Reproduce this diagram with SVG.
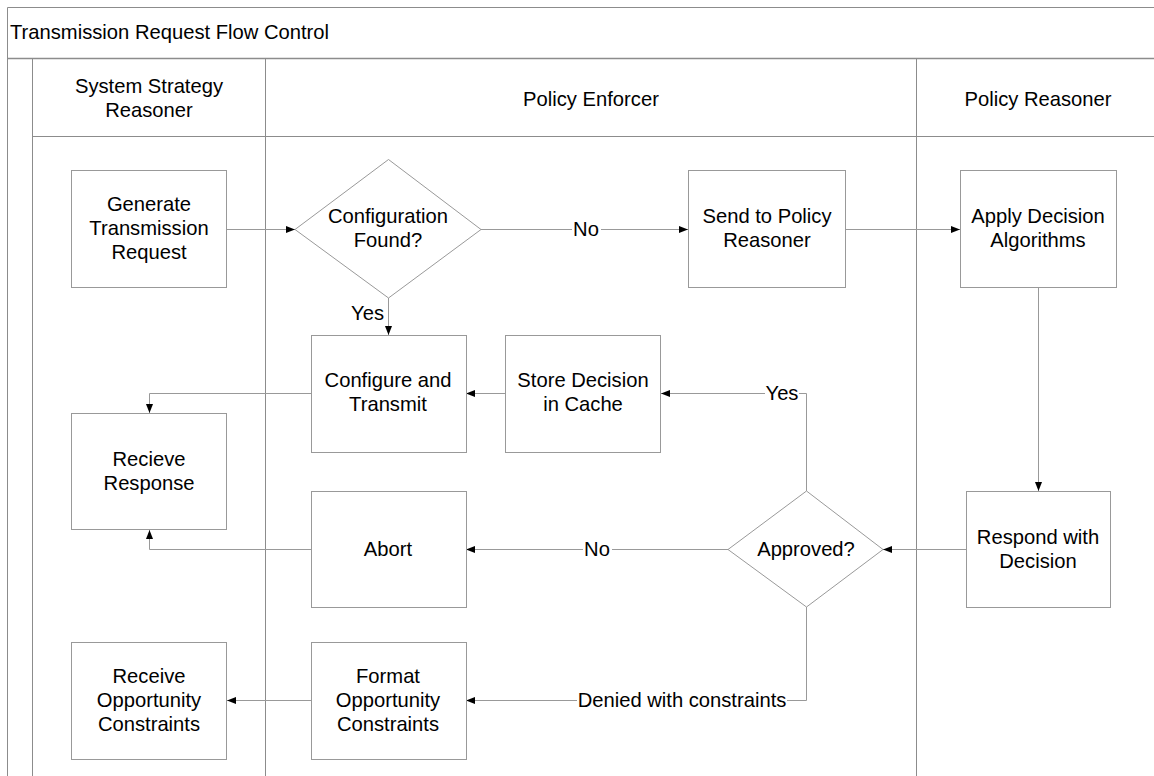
<svg xmlns="http://www.w3.org/2000/svg" width="1154" height="776" viewBox="0 0 1154 776">
  <defs>
    <marker id="arrow" markerUnits="userSpaceOnUse" markerWidth="9" markerHeight="8" viewBox="0 0 9 8" refX="9" refY="4" orient="auto">
      <path d="M0,0.5 L9,4 L0,7.5 Z" fill="#000"/>
    </marker>
    <style>
      .frame { fill: none; stroke: #8c8c8c; stroke-width: 1; }
      .box { fill: #fff; stroke: #999; stroke-width: 1; }
      .wire { fill: none; stroke: #999; stroke-width: 1; }
      .arrow { marker-end: url(#arrow); }
      text { font-family: "Liberation Sans", Arial, sans-serif; font-size: 20.2px; fill: #000; }
      .c { text-anchor: middle; }
      .lbl-bg { fill: #fff; }
    </style>
  </defs>

  <rect width="1154" height="776" fill="#fff"/>

  <!-- pool frame and lanes -->
  <g id="pool">
    <path class="frame" d="M7.5,776 V7.5 H1154"/>
    <path d="M7,58.5 H1154" stroke="#8c8c8c" stroke-width="1.6"/>
    <text x="10" y="39">Transmission Request Flow Control</text>
    <path class="frame" d="M32.5,59 V776"/>
    <path class="frame" d="M265.5,59 V776"/>
    <path class="frame" d="M916.5,59 V776"/>
    <path class="frame" d="M32,136.5 H1154"/>
  </g>
  <g id="lane-ssr">
    <text class="c" x="149" y="93">System Strategy</text>
    <text class="c" x="149" y="117">Reasoner</text>
  </g>
  <g id="lane-pe">
    <text class="c" x="591" y="106">Policy Enforcer</text>
  </g>
  <g id="lane-pr">
    <text class="c" x="1038" y="106">Policy Reasoner</text>
  </g>

  <!-- connectors -->
  <g id="connectors">
    <path class="wire arrow" d="M227,229.5 H295"/>
    <path class="wire arrow" d="M481,229.5 H688"/>
    <path class="wire arrow" d="M846,229.5 H960"/>
    <path class="wire arrow" d="M388.5,298 V335"/>
    <path class="wire arrow" d="M1038.5,288 V491"/>
    <path class="wire arrow" d="M966,549.5 H883"/>
    <path class="wire arrow" d="M806.5,491 V393.5 H661"/>
    <path class="wire arrow" d="M505,393.5 H466"/>
    <path class="wire arrow" d="M311,393.5 H149.5 V413"/>
    <path class="wire arrow" d="M311,549.5 H149.5 V530"/>
    <path class="wire arrow" d="M728,549.5 H466"/>
    <path class="wire arrow" d="M806.5,607 V700.5 H466"/>
    <path class="wire arrow" d="M311,700.5 H227"/>

    <rect class="lbl-bg" x="572" y="219" width="29" height="20"/>
    <text class="c" x="586" y="236">No</text>
    <text x="384" y="320" text-anchor="end">Yes</text>
    <rect class="lbl-bg" x="765" y="383" width="34" height="20"/>
    <text class="c" x="782" y="400">Yes</text>
    <rect class="lbl-bg" x="583" y="539" width="29" height="20"/>
    <text class="c" x="597" y="556">No</text>
    <rect class="lbl-bg" x="577" y="690" width="210" height="20"/>
    <text class="c" x="682" y="707">Denied with constraints</text>
  </g>

  <!-- nodes -->
  <g id="generate-request">
    <rect class="box" x="71.5" y="170.5" width="155" height="117"/>
    <text class="c" x="149" y="211">Generate</text>
    <text class="c" x="149" y="235">Transmission</text>
    <text class="c" x="149" y="259">Request</text>
  </g>
  <g id="configuration-found">
    <polygon class="box" points="388.5,159.5 481,229.5 388.5,298 295,229.5"/>
    <text class="c" x="388" y="223">Configuration</text>
    <text class="c" x="388" y="247">Found?</text>
  </g>
  <g id="send-to-reasoner">
    <rect class="box" x="688.5" y="170.5" width="157" height="117"/>
    <text class="c" x="767" y="223">Send to Policy</text>
    <text class="c" x="767" y="247">Reasoner</text>
  </g>
  <g id="apply-algorithms">
    <rect class="box" x="960.5" y="170.5" width="156" height="117"/>
    <text class="c" x="1038" y="223">Apply Decision</text>
    <text class="c" x="1038" y="247">Algorithms</text>
  </g>
  <g id="configure-transmit">
    <rect class="box" x="311.5" y="335.5" width="155" height="117"/>
    <text class="c" x="388" y="387">Configure and</text>
    <text class="c" x="388" y="411">Transmit</text>
  </g>
  <g id="store-decision">
    <rect class="box" x="505.5" y="335.5" width="155" height="117"/>
    <text class="c" x="583" y="387">Store Decision</text>
    <text class="c" x="583" y="411">in Cache</text>
  </g>
  <g id="receive-response">
    <rect class="box" x="71.5" y="413.5" width="155" height="116"/>
    <text class="c" x="149" y="466">Recieve</text>
    <text class="c" x="149" y="490">Response</text>
  </g>
  <g id="abort">
    <rect class="box" x="311.5" y="491.5" width="155" height="116"/>
    <text class="c" x="388" y="556">Abort</text>
  </g>
  <g id="approved">
    <polygon class="box" points="806.5,491 883,549.5 806.5,607 728,549.5"/>
    <text class="c" x="806" y="556">Approved?</text>
  </g>
  <g id="respond-decision">
    <rect class="box" x="966.5" y="491.5" width="144" height="116"/>
    <text class="c" x="1038" y="544">Respond with</text>
    <text class="c" x="1038" y="568">Decision</text>
  </g>
  <g id="receive-constraints">
    <rect class="box" x="71.5" y="642.5" width="155" height="117"/>
    <text class="c" x="149" y="683">Receive</text>
    <text class="c" x="149" y="707">Opportunity</text>
    <text class="c" x="149" y="731">Constraints</text>
  </g>
  <g id="format-constraints">
    <rect class="box" x="311.5" y="642.5" width="155" height="117"/>
    <text class="c" x="388" y="683">Format</text>
    <text class="c" x="388" y="707">Opportunity</text>
    <text class="c" x="388" y="731">Constraints</text>
  </g>
</svg>
